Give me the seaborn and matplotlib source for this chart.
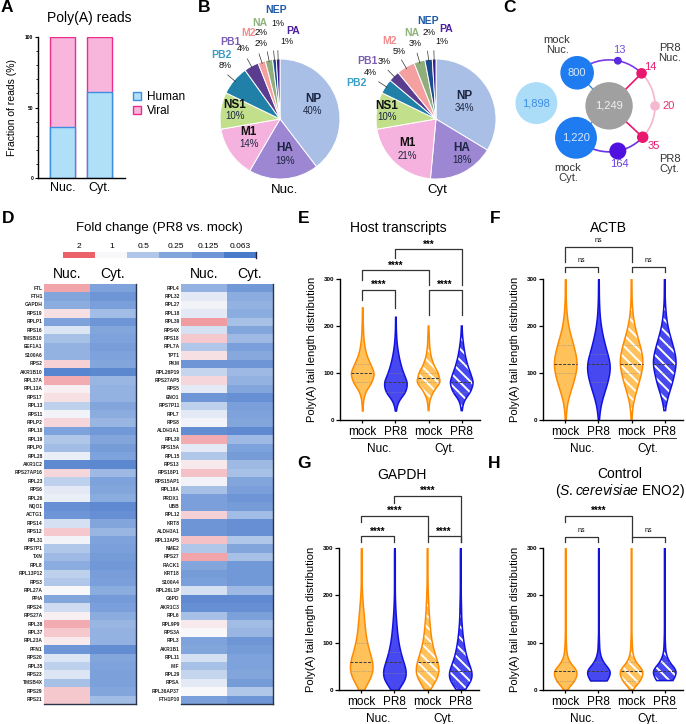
import numpy as np
import pandas as pd
import matplotlib
matplotlib.use("Agg")
import matplotlib.pyplot as plt
from matplotlib.colors import LinearSegmentedColormap
from matplotlib.collections import PolyCollection
from matplotlib.patches import Circle, Arc, PathPatch, Patch
from matplotlib.ticker import MultipleLocator
import matplotlib.transforms as mtransforms
import seaborn as sns

# --- DATA ---
# A: share of poly(A) reads
compartments = ["Nuc.", "Cyt."]
human_pct = [36, 61]
viral_pct = [64, 39]

# B: viral segment shares (%)
segments = ["NP", "HA", "M1", "NS1", "PB2", "PB1", "M2", "NA", "NEP", "PA"]
nuc_seg_pct = [40, 19, 14, 10, 8, 4, 2, 2, 1, 1]
cyt_seg_pct = [34, 18, 21, 10, 4, 3, 5, 3, 2, 1]

# C: transcript overlap counts
big_sets = ["only", "mock Nuc.", "all", "mock Cyt."]
big_counts = [1898, 800, 1249, 1220]
small_counts = [13, 14, 20, 35, 164]

# D: log2 fold change (PR8 vs mock)
fc_ticks = [2, 1, 0.5, 0.25, 0.125, 0.063]
fc_tick_labels = ["2", "1", "0.5", "0.25", "0.125", "0.063"]
genes_left = ["FTL", "FTH1", "GAPDH", "RPS19", "RPLP1", "RPS16", "TMSB10", "EEF1A1", "S100A6", "RPS2",
              "AKR1B10", "RPL37A", "RPL13A", "RPS17", "RPL13", "RPS11", "RPLP2", "RPL10", "RPL19", "RPLP0",
              "RPL28", "AKR1C2", "RPS27AP16", "RPL23", "RPS6", "RPL26", "NQO1", "ACTG1", "RPS14", "RPS12",
              "RPL31", "RPS7P1", "TXN", "RPL8", "RPL13P12", "RPS3", "RPL27A", "PPIA", "RPS24", "RPS27A",
              "RPL38", "RPL37", "RPL23A", "PFN1", "RPS20", "RPL35", "RPS23", "TMSB4X", "RPS29", "RPS21"]
nuc_left = [0.55, -2.0, -1.8, 0.15, -2.2, -0.4, -1.2, -1.6, -1.6, 0.25,
            -3.6, 0.5, 0.05, 0.15, -0.8, -0.1, 0.2, -2.2, -1.0, -1.3,
            -0.2, -3.4, 0.2, -0.8, -0.3, -0.2, -3.2, -3.0, -0.5, 0.3,
            -0.1, -1.0, -1.4, -1.8, -0.8, -1.0, 0.0, -2.0, -0.6, 0.05,
            0.5, 0.3, 0.1, -3.0, -0.4, -0.8, -0.4, -1.2, 0.3, 0.3]
cyt_left = [-2.2, -3.0, -2.4, -1.3, -3.0, -2.0, -2.2, -2.5, -2.2, -2.0,
            -3.5, -1.5, -1.6, -1.6, -2.0, -1.8, -1.5, -2.8, -2.0, -2.6,
            -2.2, -3.5, -1.4, -2.2, -2.0, -1.8, -3.4, -3.2, -2.0, -1.5,
            -2.2, -2.4, -2.6, -2.8, -2.5, -2.4, -1.8, -2.7, -2.4, -1.8,
            -1.5, -1.6, -1.6, -3.3, -2.0, -2.2, -2.3, -2.3, -2.0, -1.3]
genes_right = ["RPL4", "RPL32", "RPL27", "RPL18", "RPL39", "RPS4X", "RPS18", "RPL7A", "TPT1", "PKM",
               "RPL26P19", "RPS27AP5", "RPS5", "ENO1", "RPS7P11", "RPL7", "RPS8", "ALDH1A1", "RPL30", "RPS15A",
               "RPL15", "RPS13", "RPS18P1", "RPS15AP1", "RPL18A", "PRDX1", "UBB", "RPL12", "KRT8", "ALDH3A1",
               "RPL13AP5", "NME2", "RPS27", "RACK1", "KRT18", "S100A4", "RPL26L1P", "G6PD", "AKR1C3", "RPL6",
               "RPL9P9", "RPS3A", "RPL3", "AKR1B1", "RPL11", "MIF", "RPL29", "RPSA", "RPL36AP37", "FTH1P10"]
nuc_right = [-1.6, -0.3, -0.1, -0.3, 0.6, -0.5, 0.3, -1.0, 0.15, -3.0,
             -0.7, 0.2, -0.3, -3.0, -0.8, -0.3, -0.1, -3.3, 0.5, -0.3,
             -1.0, 0.1, 0.35, -0.1, -1.2, -2.4, -2.4, 0.25, -3.0, -3.0,
             0.35, -1.0, 0.55, -2.0, -2.6, -2.4, -0.5, -3.4, -3.2, -1.2,
             0.1, 0.0, -2.2, -2.0, -0.5, -1.2, -0.7, -0.3, 0.0, -2.4]
cyt_right = [-2.8, -1.8, -1.6, -1.8, -1.2, -2.0, -1.4, -2.4, -1.9, -3.0,
             -1.4, -1.6, -2.0, -3.2, -2.4, -2.2, -2.0, -3.4, -1.4, -2.2,
             -2.6, -1.4, -1.2, -2.0, -2.4, -3.0, -2.6, -1.3, -3.2, -3.2,
             -1.0, -2.0, -1.2, -2.8, -2.8, -2.8, -1.4, -3.4, -3.2, -2.3,
             -1.3, -1.5, -3.0, -2.6, -2.2, -2.2, -2.0, -2.6, -1.0, -3.0]

# E-H: poly(A) tail length profiles (relative read counts per length bin)
groups = ["mock Nuc.", "PR8 Nuc.", "mock Cyt.", "PR8 Cyt."]
tail_bins = [0, 20, 40, 60, 80, 100, 120, 140, 160, 180, 200, 220, 240, 260, 280, 300]
host_mock_nuc = [0, 1, 2, 8, 30, 40, 25, 12, 6, 3, 2, 1, 1, 0, 0, 0]
host_pr8_nuc = [0, 1, 6, 30, 35, 22, 14, 8, 4, 2, 1, 1, 0, 0, 0, 0]
host_mock_cyt = [0, 1, 3, 14, 38, 30, 14, 6, 3, 2, 1, 0, 0, 0, 0, 0]
host_pr8_cyt = [0, 1, 5, 26, 34, 24, 15, 9, 5, 2, 1, 0, 0, 0, 0, 0]
actb_mock_nuc = [1, 2, 5, 12, 20, 26, 30, 26, 20, 13, 7, 4, 2, 1, 1, 1]
actb_pr8_nuc = [1, 3, 7, 15, 22, 28, 30, 22, 16, 10, 6, 3, 2, 1, 1, 1]
actb_mock_cyt = [1, 2, 5, 12, 19, 25, 30, 27, 21, 14, 8, 4, 2, 1, 1, 1]
actb_pr8_cyt = [0, 1, 5, 12, 20, 24, 30, 26, 20, 13, 7, 4, 2, 1, 1, 1]
gapdh_mock_nuc = [3, 20, 30, 28, 20, 14, 10, 8, 6, 4, 2, 1, 1, 1, 1, 1]
gapdh_pr8_nuc = [4, 30, 32, 22, 15, 10, 7, 5, 3, 2, 1, 1, 1, 1, 1, 1]
gapdh_mock_cyt = [3, 24, 32, 25, 17, 11, 8, 6, 4, 3, 2, 1, 1, 1, 1, 1]
gapdh_pr8_cyt = [5, 35, 30, 18, 12, 8, 5, 3, 2, 2, 1, 1, 1, 1, 1, 1]
eno2_mock_nuc = [1, 30, 40, 10, 3, 2, 1, 1, 1, 1, 1, 1, 1, 1, 1, 1]
eno2_pr8_nuc = [0, 28, 42, 12, 3, 2, 1, 1, 1, 1, 1, 1, 1, 1, 1, 1]
eno2_mock_cyt = [1, 30, 40, 10, 3, 2, 1, 1, 1, 1, 1, 1, 1, 1, 1, 1]
eno2_pr8_cyt = [0, 28, 42, 12, 3, 2, 1, 1, 1, 1, 1, 1, 1, 1, 1, 1]

host_tests = [(0, 1, "****"), (2, 3, "****"), (0, 2, "****"), (1, 3, "***")]
actb_tests = [(0, 1, "ns"), (2, 3, "ns"), (0, 2, "ns")]
gapdh_tests = [(0, 1, "****"), (2, 3, "****"), (0, 2, "****"), (1, 3, "****")]
eno2_tests = [(0, 1, "ns"), (2, 3, "ns"), (0, 2, "****")]

# --- STYLE ---
plt.rcParams['font.family'] = ['Liberation Sans', 'DejaVu Sans']
plt.rcParams['mathtext.fontset'] = 'custom'
plt.rcParams['mathtext.rm'] = 'Liberation Sans'
plt.rcParams['mathtext.it'] = 'Liberation Sans:italic'
plt.rcParams['hatch.linewidth'] = 1.4
plt.rcParams['axes.linewidth'] = 1.0

W, H = 686, 724
fig = plt.figure(figsize=(W / 100, H / 100), dpi=100)


def px_axes(x0, y0, x1, y1):
    return fig.add_axes([x0 / W, 1 - y1 / H, (x1 - x0) / W, (y1 - y0) / H])


def ftext(x, y, s, **kw):
    kw.setdefault("ha", "center")
    kw.setdefault("va", "center")
    fig.text(x / W, 1 - y / H, s, **kw)


# panel letters
for letter, (lx, ly) in {"A": (7, 8), "B": (204, 8), "C": (510, 8), "D": (8, 219),
                         "E": (304, 218), "F": (495, 218), "G": (304, 464), "H": (494, 464)}.items():
    ftext(lx, ly, letter, fontsize=12.5, weight="bold")

# --- A: stacked bars ---
axA = px_axes(38, 37, 125, 178)
dfA = pd.DataFrame({"compartment": compartments, "human": human_pct,
                    "total": np.add(human_pct, viral_pct)})
sns.barplot(data=dfA, x="compartment", y="total", color="#F8B6DC", edgecolor="#EC2C8C",
            linewidth=1.0, width=0.67, saturation=1, ax=axA)
sns.barplot(data=dfA, x="compartment", y="human", color="#B0E0F8", edgecolor="#3C8EE4",
            linewidth=1.0, width=0.67, saturation=1, ax=axA)
axA.set_xlim(-0.65, 1.67)
axA.set_ylim(0, 100)
axA.set_yticks([0, 50, 100])
axA.yaxis.set_minor_locator(MultipleLocator(10))
axA.tick_params(axis="y", labelsize=3.5, length=2.5, width=0.8, pad=1)
axA.tick_params(axis="y", which="minor", length=1.5, width=0.6)
for t in axA.get_yticklabels():
    t.set_fontweight("bold")
axA.tick_params(axis="x", labelsize=9, length=0, pad=3)
axA.set_xlabel("")
axA.set_ylabel("Fraction of reads (%)", fontsize=7.5, labelpad=6)
sns.despine(ax=axA)
ftext(89, 18, "Poly(A) reads", fontsize=10)
fig.legend(handles=[Patch(facecolor="#B0E0F8", edgecolor="#3C8EE4", lw=1.0),
                    Patch(facecolor="#F8B6DC", edgecolor="#EC2C8C", lw=1.0)],
           labels=["Human", "Viral"], loc="upper left", bbox_to_anchor=(127 / W, 1 - 85 / H),
           frameon=False, fontsize=8.5, handlelength=0.7, handleheight=0.7,
           handletextpad=0.5, labelspacing=0.2, borderpad=0)

# --- B: pies ---
seg_colors = ["#A9BFE6", "#9D86D2", "#F6B2DE", "#C2E08C", "#2180A8",
              "#5B3D8F", "#F4A0A0", "#8FAE7C", "#1A4C90", "#3D1C8F"]
seg_text_colors = ["#1C2541", "#1C2541", "#111111", "#111111", "#3A9CC8",
                   "#7B5EB4", "#F28C8C", "#8EB47A", "#1F5AA8", "#4B1F9E"]
pie1_name_xy = [(0.55, 0.33), (0.08, -0.48), (-0.52, -0.22), (-0.75, 0.23), (-0.98, 1.07),
                (-0.83, 1.29), (-0.53, 1.44), (-0.33, 1.6), (-0.06, 1.82), (0.22, 1.47)]
pie1_pct_xy = [(0.55, 0.13), (0.08, -0.70), (-0.52, -0.42), (-0.75, 0.05), (-0.92, 0.89),
               (-0.61, 1.18), (-0.31, 1.26), (-0.31, 1.44), (-0.03, 1.6), (0.11, 1.3)]
pie2_name_xy = [(0.48, 0.38), (0.43, -0.48), (-0.47, -0.40), (-0.82, 0.22), (-1.32, 0.6),
                (-1.15, 0.96), (-0.77, 1.3), (-0.4, 1.44), (-0.13, 1.64), (0.17, 1.5)]
pie2_pct_xy = [(0.48, 0.18), (0.43, -0.68), (-0.47, -0.62), (-0.82, 0.03), (-1.1, 0.77),
               (-0.86, 0.96), (-0.62, 1.12), (-0.35, 1.25), (-0.12, 1.44), (0.1, 1.3)]


def draw_pie(ax, values, name_xy, pct_xy):
    wedges, _ = ax.pie(values, colors=seg_colors, startangle=90, counterclock=False,
                       wedgeprops=dict(edgecolor="white", linewidth=0.7))
    ax.set_xlim(-1, 1)
    ax.set_ylim(-1, 1)
    ax.set_aspect("equal")
    for i, (seg, v) in enumerate(zip(segments, values)):
        inner = i < 4
        ax.text(*name_xy[i], seg, ha="center", va="center", fontsize=8.5 if inner else 7.5,
                weight="bold", color=seg_text_colors[i])
        ax.text(*pct_xy[i], f"{v}%", ha="center", va="center", fontsize=7 if inner else 6.5,
                color="#1C2541" if inner else "#111111")
        if not inner:
            w = wedges[i]
            ang = np.deg2rad((w.theta1 + w.theta2) / 2)
            ax.plot([0.97 * np.cos(ang), 1.14 * np.cos(ang)], [0.97 * np.sin(ang), 1.14 * np.sin(ang)],
                    color="#333333", lw=0.5, clip_on=False)


axB1 = px_axes(220, 59, 340, 179)
draw_pie(axB1, nuc_seg_pct, pie1_name_xy, pie1_pct_xy)
axB2 = px_axes(376, 59, 496, 179)
draw_pie(axB2, cyt_seg_pct, pie2_name_xy, pie2_pct_xy)
ftext(284, 190, "Nuc.", fontsize=9.5)
ftext(437, 190, "Cyt", fontsize=9.5)

# --- C: overlap diagram ---
axC = px_axes(505, 30, 686, 190)
axC.set_xlim(-2.26, 1.67)
axC.set_ylim(-1.83, 1.65)
axC.set_aspect("equal")
axC.axis("off")
big_xy = [(-1.58, 0.06), (np.cos(np.deg2rad(134)), np.sin(np.deg2rad(134))), (0, 0),
          (np.cos(np.deg2rad(-136)), np.sin(np.deg2rad(-136)))]
big_r = [0.44, 0.35, 0.5, 0.44]
big_fill = ["#ABDCF8", "#1E7BF0", "#A0A0A0", "#1E7BF0"]
big_text = ["#3C8CE6", "#D6EAFF", "#F0F0F0", "#D6EAFF"]
small_ang = [79, 45, 0, -43, -79]
small_r = [0.07, 0.1, 0.09, 0.11, 0.17]
small_fill = ["#5A2AE0", "#E8186E", "#F6B8D0", "#E8186E", "#5010E0"]
small_text = ["#7A4CE6", "#E8186E", "#E8306E", "#E8186E", "#6A3AE0"]
small_lab_xy = [(0.22, 1.22), (0.9, 0.84), (1.3, 0.0), (0.98, -0.88), (0.22, -1.27)]

axC.add_patch(Arc((0, 0), 2, 2, theta1=45, theta2=134, color="#7A3CE8", lw=1.2))
axC.add_patch(Arc((0, 0), 2, 2, theta1=-43, theta2=45, color="#F4B6CC", lw=1.2))
axC.add_patch(Arc((0, 0), 2, 2, theta1=-136, theta2=-43, color="#6A30E6", lw=1.2))
for a in (45, -43):
    axC.plot([0, np.cos(np.deg2rad(a))], [0, np.sin(np.deg2rad(a))], color="#E8186E", lw=1.2)
for k in (1, 3):
    axC.plot([0, big_xy[k][0]], [0, big_xy[k][1]], color="#3C8CE6", lw=1.0)
for k in range(4):
    axC.add_patch(Circle(big_xy[k], big_r[k], color=big_fill[k], zorder=3))
    axC.text(*big_xy[k], f"{big_counts[k]:,}", ha="center", va="center", fontsize=8,
             color=big_text[k], zorder=4)
for k in range(5):
    a = np.deg2rad(small_ang[k])
    axC.add_patch(Circle((np.cos(a), np.sin(a)), small_r[k], color=small_fill[k], zorder=3))
    axC.text(*small_lab_xy[k], str(small_counts[k]), ha="center", va="center", fontsize=8,
             color=small_text[k])
for (tx, ty), s in zip([(-1.13, 1.33), (1.32, 1.15), (-0.89, -1.46), (1.32, -1.26)],
                       ["mock\nNuc.", "PR8\nNuc.", "mock\nCyt.", "PR8\nCyt."]):
    axC.text(tx, ty, s, ha="center", va="center", fontsize=8, color="#333333", linespacing=1.0)

# --- D: heatmaps ---
fc_cmap = LinearSegmentedColormap.from_list(
    "fc", [(0.0, "#4A7ACA"), (0.2, "#6E96D6"), (0.4, "#82A5DC"), (0.6, "#B0C7E9"),
           (0.8, "#F8F8FA"), (1.0, "#EC6068")])
ftext(159, 228, "Fold change (PR8 vs. mock)", fontsize=9.5)
axCb = px_axes(63, 252, 256, 258)
axCb.imshow(np.log2(np.array([fc_ticks])), cmap=fc_cmap, vmin=-4, vmax=1, aspect="auto")
axCb.set_yticks([])
axCb.set_xticks(range(len(fc_ticks)))
axCb.set_xticklabels(fc_tick_labels, fontsize=6)
axCb.xaxis.tick_top()
axCb.tick_params(axis="x", length=0, pad=1.5)
for side in ("top", "left", "bottom"):
    axCb.spines[side].set_visible(False)
axCb.spines["right"].set_color("#1C2541")


def draw_heat(ax, genes, nuc, cyt):
    dfh = pd.DataFrame({"Nuc.": nuc, "Cyt.": cyt}, index=genes)
    sns.heatmap(dfh, cmap=fc_cmap, vmin=-4, vmax=1, cbar=False, ax=ax,
                xticklabels=True, yticklabels=True)
    ax.xaxis.tick_top()
    ax.tick_params(axis="x", length=0, labelsize=10, pad=2)
    ax.tick_params(axis="y", length=0, labelsize=3.5, pad=1)
    plt.setp(ax.get_yticklabels(), rotation=0, fontweight="bold", color="#222222")
    for side in ("right", "bottom"):
        ax.spines[side].set_visible(True)
        ax.spines[side].set_color("#2B3448")
        ax.spines[side].set_linewidth(1.0)


axD1 = px_axes(44, 284, 136, 704)
draw_heat(axD1, genes_left, nuc_left, cyt_left)
axD2 = px_axes(181, 284, 273, 704)
draw_heat(axD2, genes_right, nuc_right, cyt_right)

# --- E-H: violins ---
fill_colors = ["#FFC15A", "#4848F0", "#FFC15A", "#4848F0"]
edge_colors = ["#FF8A00", "#1212E0", "#FF8A00", "#1212E0"]
host_levels = [(277, 255, 238), (277, 223, 223), (319, 298, 287), (363, 344, 287)]
actb_levels = [(326, 315, 315), (326, 315, 315), (368, 336, 336)]
gapdh_levels = [(325, 313, 313), (325, 313, 313), (368, 355, 325), (410, 395, 313)]
eno2_levels = [(323, 313, 313), (323, 313, 313), (368, 355, 323)]


def violin_panel(ax, counts, tests, levels, bw=0.9):
    frames = [pd.DataFrame({"group": g, "length": np.repeat(tail_bins, c)})
              for g, c in zip(groups, counts)]
    dfv = pd.concat(frames, ignore_index=True)
    sns.violinplot(data=dfv, x="group", y="length", hue="group", order=groups, hue_order=groups,
                   palette=dict(zip(groups, fill_colors)), saturation=1, cut=0, width=0.68,
                   density_norm="width", inner="quart", linewidth=1.1, bw_adjust=bw,
                   inner_kws=dict(color="#3A3A3A", linewidth=0.7), legend=False, ax=ax)
    # median dashed, quartiles faint dotted
    for k, ln in enumerate(list(ax.lines)):
        if k % 3 == 1:
            ln.set_dashes((3, 1.5))
            ln.set_color("#3A3A3A")
            ln.set_linewidth(0.7)
        else:
            ln.set_dashes((1, 1.5))
            ln.set_color("#8A8A8A")
            ln.set_linewidth(0.5)
    for p in [c for c in ax.collections if isinstance(c, PolyCollection)]:
        path = p.get_paths()[0]
        i = int(round(path.vertices[:, 0].mean()))
        p.set_edgecolor(edge_colors[i])
        if i >= 2:
            p.set_edgecolor("white")
            p.set_linewidth(0)
            p.set_hatch("\\\\\\")
            ax.add_patch(PathPatch(path, facecolor="none", edgecolor=edge_colors[i],
                                   lw=1.1, zorder=p.get_zorder() + 0.1))
    ax.set_xlim(-0.67, 3.55)
    ax.set_ylim(0, 300)
    ax.set_yticks([0, 100, 200, 300])
    ax.tick_params(axis="y", labelsize=4.5, length=3, width=0.9, pad=1)
    for t in ax.get_yticklabels():
        t.set_fontweight("bold")
    ax.set_xticks(range(4))
    ax.set_xticklabels(["mock", "PR8", "mock", "PR8"])
    ax.tick_params(axis="x", labelsize=8.5, length=2.5, width=0.9, pad=2)
    ax.set_xlabel("")
    ax.set_ylabel("Poly(A) tail length distribution", fontsize=8, labelpad=5)
    sns.despine(ax=ax)
    trans = mtransforms.blended_transform_factory(ax.transData, ax.transAxes)
    for cx, lab in ((0.5, "Nuc."), (2.5, "Cyt.")):
        ax.plot([cx - 0.85, cx + 0.85], [-0.128, -0.128], color="#333333", lw=0.7,
                transform=trans, clip_on=False)
        ax.text(cx, -0.205, lab, ha="center", va="center", fontsize=8.5, transform=trans)
    for (x1, x2, mark), (y, e1, e2) in zip(tests, levels):
        ax.plot([x1, x1, x2, x2], [e1, y, y, e2], color="#333333", lw=0.9, clip_on=False)
        if mark == "ns":
            ax.text((x1 + x2) / 2, y + 13, mark, ha="center", va="center", fontsize=5)
        else:
            ax.text((x1 + x2) / 2, y + 10, mark, ha="center", va="center", fontsize=7,
                    weight="bold")


axE = px_axes(340, 279, 480, 420)
violin_panel(axE, [host_mock_nuc, host_pr8_nuc, host_mock_cyt, host_pr8_cyt],
             host_tests, host_levels)
ftext(398, 228, "Host transcripts", fontsize=10)
axF = px_axes(543, 279, 683, 420)
violin_panel(axF, [actb_mock_nuc, actb_pr8_nuc, actb_mock_cyt, actb_pr8_cyt],
             actb_tests, actb_levels)
ftext(608, 228, "ACTB", fontsize=10)
axG = px_axes(339, 548, 479, 690)
violin_panel(axG, [gapdh_mock_nuc, gapdh_pr8_nuc, gapdh_mock_cyt, gapdh_pr8_cyt],
             gapdh_tests, gapdh_levels, bw=0.75)
ftext(402, 475, "GAPDH", fontsize=10)
axH = px_axes(543, 548, 683, 690)
violin_panel(axH, [eno2_mock_nuc, eno2_pr8_nuc, eno2_mock_cyt, eno2_pr8_cyt],
             eno2_tests, eno2_levels, bw=0.5)
ftext(620, 474, "Control", fontsize=10)
ftext(620, 491, "($\\it{S.cerevisiae}$ ENO2)", fontsize=10)

fig.savefig("out.png", dpi=100)
